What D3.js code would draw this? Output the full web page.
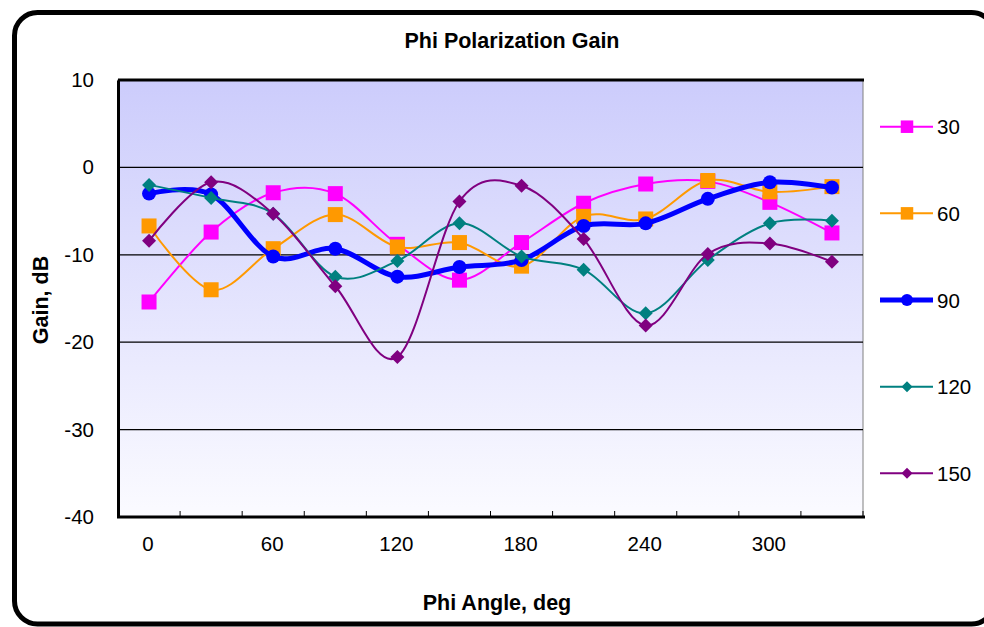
<!DOCTYPE html>
<html lang="en">
<head>
  <meta charset="UTF-8">
  <title>Phi Polarization Gain</title>
  <script src="https://cdn.jsdelivr.net/npm/d3@7/dist/d3.min.js"></script>
  <style>
    body { margin: 0; background: #fff; }
    svg { display: block; font-family: "Liberation Sans", Arial, sans-serif; }
  </style>
</head>
<body>
  <div id="chart"></div>

  <script>
    // Phi angles (deg)
    var angles = [0, 30, 60, 90, 120, 150, 180, 210, 240, 270, 300, 330];

    // Gain (dB) per theta series
    var gain30  = [-15.4, -7.4, -2.9, -3.0, -8.8, -12.9, -8.6, -4.1, -1.9, -1.6, -4.0, -7.5];
    var gain60  = [-6.7, -14.0, -9.3, -5.4, -9.1, -8.6, -11.3, -5.6, -5.9, -1.5, -2.8, -2.2];
    var gain90  = [-3.0, -3.1, -10.2, -9.3, -12.5, -11.4, -10.6, -6.7, -6.4, -3.6, -1.7, -2.3];
    var gain120 = [-2.0, -3.5, -5.3, -12.5, -10.7, -6.4, -10.2, -11.7, -16.7, -10.6, -6.4, -6.1];
    var gain150 = [-8.4, -1.7, -5.3, -13.6, -21.7, -3.9, -2.1, -8.2, -18.1, -9.9, -8.7, -10.8];

    var seriesNames = ["30", "60", "90", "120", "150"];
    var yTicks = [-40, -30, -20, -10, 0, 10];
    var xLabels = [0, 60, 120, 180, 240, 300];

    var series = [
      { name: "30",  values: gain30,  color: "#ff00ff", marker: "square",  width: 2 },
      { name: "60",  values: gain60,  color: "#ff9900", marker: "square",  width: 2 },
      { name: "90",  values: gain90,  color: "#0000ff", marker: "circle",  width: 5 },
      { name: "120", values: gain120, color: "#008080", marker: "diamond", width: 2 },
      { name: "150", values: gain150, color: "#800080", marker: "diamond", width: 2 }
    ];

    var W = 984, H = 627;
    var plot = { left: 118, top: 80, right: 863, bottom: 517 };

    var svg = d3.select("#chart")
      .append("svg")
      .attr("width", W)
      .attr("height", H);

    // Background gradient of the plot area
    var defs = svg.append("defs");
    var grad = defs.append("linearGradient")
      .attr("id", "bg")
      .attr("x1", 0).attr("y1", 0).attr("x2", 0).attr("y2", 1);
    grad.append("stop").attr("offset", "0%").attr("stop-color", "#ccccfc");
    grad.append("stop").attr("offset", "100%").attr("stop-color", "#fbfbff");

    // Outer rounded frame
    svg.append("rect")
      .attr("x", 14.5).attr("y", 12.5)
      .attr("width", 980).attr("height", 611.5)
      .attr("rx", 23).attr("ry", 23)
      .attr("fill", "#fff")
      .attr("stroke", "#000")
      .attr("stroke-width", 5);

    // Scales
    var x = d3.scaleBand()
      .domain(angles)
      .range([plot.left, plot.right])
      .padding(0);
    var xc = function (a) { return x(a) + x.bandwidth() / 2; };

    var y = d3.scaleLinear()
      .domain([-40, 10])
      .range([plot.bottom, plot.top]);

    // Plot area
    svg.append("rect")
      .attr("x", plot.left).attr("y", plot.top)
      .attr("width", plot.right - plot.left)
      .attr("height", plot.bottom - plot.top)
      .attr("fill", "url(#bg)")
      .attr("stroke", "#808080")
      .attr("stroke-width", 1);

    // Gridlines
    svg.append("g")
      .selectAll("line")
      .data(yTicks.filter(function (d) { return d > -40 && d < 10; }))
      .enter()
      .append("line")
      .attr("x1", plot.left).attr("x2", plot.right)
      .attr("y1", function (d) { return y(d); })
      .attr("y2", function (d) { return y(d); })
      .attr("stroke", "#000")
      .attr("stroke-width", 1.2);

    // Top edge of the plot area
    svg.append("line")
      .attr("x1", plot.left).attr("x2", plot.right + 1)
      .attr("y1", y(10)).attr("y2", y(10))
      .attr("stroke", "#000").attr("stroke-width", 3);

    // Y axis
    var yAxis = svg.append("g")
      .attr("transform", "translate(" + plot.left + ",0)")
      .call(d3.axisLeft(y).tickValues(yTicks).tickSize(0).tickPadding(24)
        .tickFormat(function (d) { return String(d); }));
    yAxis.select(".domain").attr("stroke", "#000").attr("stroke-width", 3);
    yAxis.selectAll("text")
      .attr("font-size", 20.5)
      .attr("fill", "#000")
      .attr("font-family", "Liberation Sans, Arial, sans-serif");

    // X axis: ticks at category boundaries, pointing inward
    var bounds = angles.map(function (a) { return x(a); }).concat([plot.right]);
    svg.append("g")
      .selectAll("line")
      .data(bounds.slice(1))
      .enter()
      .append("line")
      .attr("x1", function (d) { return d; })
      .attr("x2", function (d) { return d; })
      .attr("y1", plot.bottom)
      .attr("y2", plot.bottom - 6)
      .attr("stroke", "#000")
      .attr("stroke-width", 1);

    svg.append("line")
      .attr("x1", plot.left - 1).attr("x2", plot.right + 2)
      .attr("y1", plot.bottom).attr("y2", plot.bottom)
      .attr("stroke", "#000").attr("stroke-width", 3);

    svg.append("g")
      .selectAll("text")
      .data(xLabels)
      .enter()
      .append("text")
      .attr("x", function (d) { return xc(d) - 1; })
      .attr("y", 551)
      .attr("text-anchor", "middle")
      .attr("font-size", 20.5)
      .text(function (d) { return d; });

    // Titles
    svg.append("text")
      .attr("x", 512).attr("y", 48)
      .attr("text-anchor", "middle")
      .attr("font-size", 21.5)
      .attr("font-weight", "bold")
      .text("Phi Polarization Gain");

    svg.append("text")
      .attr("x", 497).attr("y", 610)
      .attr("text-anchor", "middle")
      .attr("font-size", 21.5)
      .attr("font-weight", "bold")
      .text("Phi Angle, deg");

    svg.append("text")
      .attr("transform", "translate(48,300) rotate(-90)")
      .attr("text-anchor", "middle")
      .attr("font-size", 21.5)
      .attr("font-weight", "bold")
      .text("Gain, dB");

    // Marker drawing
    function drawMarker(g, type, color, size) {
      if (type === "square") {
        g.append("rect")
          .attr("x", -size / 2).attr("y", -size / 2)
          .attr("width", size).attr("height", size)
          .attr("fill", color);
      } else if (type === "circle") {
        g.append("circle").attr("r", size / 2).attr("fill", color);
      } else {
        var h = size / 2;
        g.append("path")
          .attr("d", "M0," + (-h) + "L" + h + ",0L0," + h + "L" + (-h) + ",0Z")
          .attr("fill", color);
      }
    }
    var markerSize = { square: 15, circle: 14, diamond: 14 };
    var legendMarkerSize = { square: 12.5, circle: 12, diamond: 11 };

    // Lines
    var line = d3.line()
      .x(function (d, i) { return xc(angles[i]); })
      .y(function (d) { return y(d); })
      .curve(d3.curveCatmullRom.alpha(0));

    series.forEach(function (s) {
      svg.append("path")
        .attr("fill", "none")
        .attr("stroke", s.color)
        .attr("stroke-width", s.width)
        .attr("d", line(s.values));

      s.values.forEach(function (v, i) {
        var g = svg.append("g")
          .attr("transform", "translate(" + xc(angles[i]) + "," + y(v) + ")");
        drawMarker(g, s.marker, s.color, markerSize[s.marker]);
      });
    });

    // Legend
    var legendY = d3.scalePoint()
      .domain(seriesNames)
      .range([126.7, 473.3]);

    series.forEach(function (s) {
      var ly = legendY(s.name);
      svg.append("line")
        .attr("x1", 880).attr("x2", 933)
        .attr("y1", ly).attr("y2", ly)
        .attr("stroke", s.color)
        .attr("stroke-width", s.width);
      var g = svg.append("g").attr("transform", "translate(907," + ly + ")");
      drawMarker(g, s.marker, s.color, legendMarkerSize[s.marker]);
      svg.append("text")
        .attr("x", 937).attr("y", ly + 7.5)
        .attr("font-size", 20.5)
        .text(s.name);
    });
  </script>
</body>
</html>
